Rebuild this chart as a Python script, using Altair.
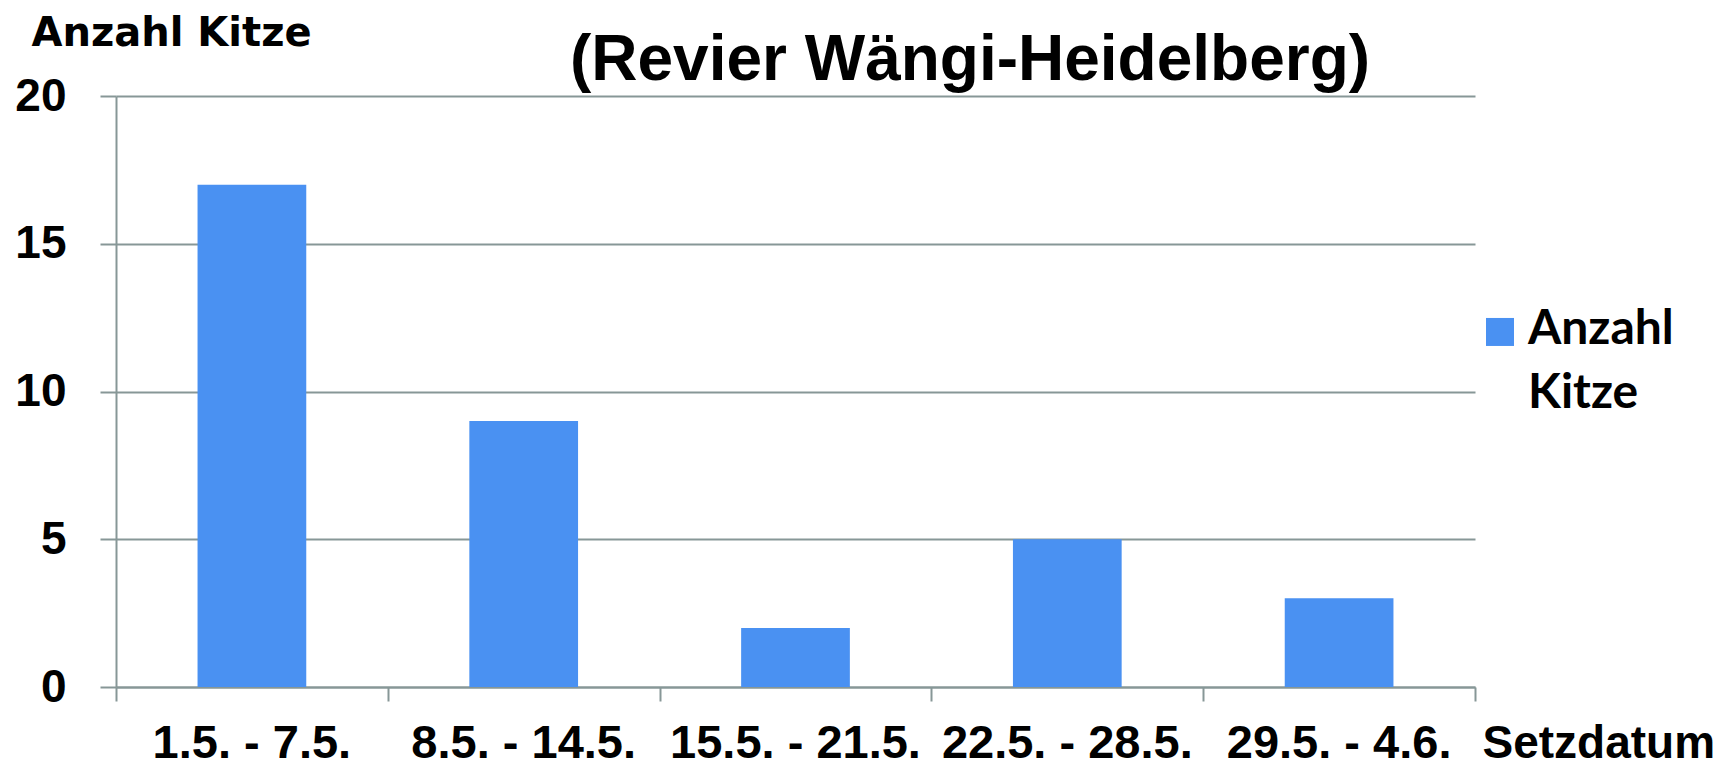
import altair as alt
import pandas as pd

categories = ["1.5. - 7.5.", "8.5. - 14.5.", "15.5. - 21.5.", "22.5. - 28.5.", "29.5. - 4.6."]
values = [17, 9, 2, 5, 3]
series_name = "Anzahl Kitze"
y_ticks = [0, 5, 10, 15, 20]
chart_title = "(Revier Wängi-Heidelberg)"
boundaries = list(range(len(categories) + 1))

df = pd.DataFrame({"Setzdatum": categories, "Anzahl": values, "Serie": [series_name] * len(categories)})
bounds_df = pd.DataFrame({"b": boundaries})
title_df = pd.DataFrame({"t": [chart_title]})

SANS = "Liberation Sans, Arial, sans-serif"
GRID = "#879797"
BAR = "#4a91f2"
W, H = 1359, 591

bars = alt.Chart(df).mark_bar(color=BAR).encode(
    x=alt.X("Setzdatum:N", sort=categories,
            scale=alt.Scale(paddingInner=0.6, paddingOuter=0.3),
            axis=alt.Axis(title="Setzdatum", labelAngle=0, labelFont=SANS, labelFontSize=47,
                          labelFontWeight="bold", labelColor="black", labelPadding=70,
                          labelBaseline="alphabetic", labelLimit=400, labelOverlap=False,
                          ticks=False, orient="bottom",
                          domainColor=GRID, domainWidth=2,
                          titleFont=SANS, titleFontSize=46, titleFontWeight="bold", titleColor="black",
                          titleAlign="left", titleBaseline="alphabetic", titleX=1366, titleY=70)),
    y=alt.Y("Anzahl:Q", scale=alt.Scale(domain=[0, 20]),
            axis=alt.Axis(values=y_ticks, title="Anzahl Kitze", titleAngle=0,
                          titleFont="DejaVu Sans, sans-serif", titleFontSize=40,
                          titleFontWeight="bold", titleColor="black",
                          titleAlign="left", titleBaseline="middle", titleX=-85, titleY=-63,
                          labelFont=SANS, labelFontSize=46, labelFontWeight="bold",
                          labelColor="black", labelPadding=34,
                          tickSize=16, tickColor=GRID, tickWidth=2,
                          domainColor=GRID, domainWidth=2,
                          grid=True, gridColor=GRID, gridWidth=2)),
    color=alt.Color("Serie:N", scale=alt.Scale(range=[BAR]),
                    legend=alt.Legend(title=None, orient="none", legendX=1360, legendY=224,
                                      symbolType="M-1,-1.86H1V0.14H-1Z", symbolSize=784,
                                      symbolStrokeWidth=0,
                                      symbolFillColor=BAR, symbolOpacity=1,
                                      labelFont="Lato, Open Sans, sans-serif", labelFontSize=48,
                                      labelFontWeight="bold", labelColor="black",
                                      labelExpr="split(datum.label, ' ')", labelOffset=4,
                                      labelBaseline="alphabetic", labelLimit=300)),
)

ticks = alt.Chart(bounds_df).mark_point(opacity=0).encode(
    x=alt.X("b:Q", scale=alt.Scale(domain=[boundaries[0], boundaries[-1]], nice=False, zero=False),
            axis=alt.Axis(values=boundaries, labels=False, title=None, domain=False, grid=False,
                          orient="bottom", tickSize=14, tickColor=GRID, tickWidth=2)),
)

title = alt.Chart(title_df).mark_text(
    font=SANS, fontSize=64, fontWeight="bold", color="black", align="center", baseline="alphabetic"
).encode(text="t:N", x=alt.value(854), y=alt.value(-16))

chart = alt.layer(bars, ticks, title).resolve_scale(x="independent").properties(
    width=W, height=H,
    autosize=alt.AutoSizeParams(type="none"),
    padding={"left": 108, "top": 88, "right": 249, "bottom": 80},
).configure(style={"guide-label": {"lineHeight": 64}}).configure_view(stroke=None)

chart.save("out.html", embed_options={"renderer": "svg", "actions": False})
